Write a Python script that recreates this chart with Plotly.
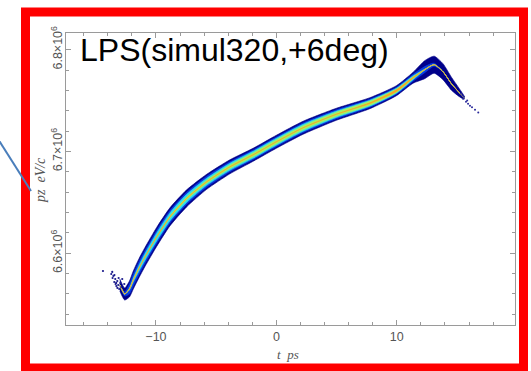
import plotly.graph_objects as go

# ---------------- data ----------------
t_center = [-13.0, -12.6, -12.2, -11.88, -11.4, -10.91, -9.94, -8.84, -7.45, -5.79, -3.86, -1.93,
            0.0, 2.22, 4.99, 7.76, 9.97, 11.36, 12.32, 13.1, 13.84, 14.54, 15.2, 15.6]
pz_center = [6.56881e6, 6.55995e6, 6.56487e6, 6.57373e6, 6.58554e6, 6.59636e6, 6.61604e6, 6.63572e6,
             6.65392e6, 6.67016e6, 6.68492e6, 6.69673e6, 6.70952e6, 6.72330e6, 6.73658e6, 6.74740e6,
             6.75970e6, 6.77250e6, 6.78037e6, 6.78529e6, 6.77840e6, 6.76659e6, 6.75774e6, 6.75282e6]
# half spreads of the density levels (eV)
spread_outer = [5900, 5900, 7870, 8860, 9350, 9350, 9350, 8860, 8360, 7380, 6890, 6400,
                6400, 6400, 5900, 5410, 4920, 5410, 8860, 8360, 7870, 6400, 3940, 1480]
spread_mid = [0, 1970, 4920, 5900, 6400, 6400, 6400, 6200, 5900, 5410, 4920, 4720,
              4720, 4720, 4430, 3940, 3440, 3440, 3000, 1500, 0, 0, 0, 0]
spread_cyan = [0, 0, 980, 1970, 2950, 3440, 3940, 3940, 3940, 3440, 3440, 3440,
               3440, 3440, 3150, 2950, 2460, 1970, 500, 0, 0, 0, 0, 0]
spread_core = [0, 0, 0, 0, 0, 0, 490, 980, 1280, 1570, 1770, 1970,
               2070, 2070, 2070, 2070, 1770, 980, 0, 0, 0, 0, 0, 0]
spread_hot = [0, 0, 0, 0, 0, 0, 0, 0, 0, 0, 0, 0,
              0, 0, 0, 390, 890, 390, 0, 0, 0, 0, 0, 0]

# sparse particles near the head and the tail
t_head = [-14.40, -13.71, -13.54, -13.38, -13.46, -13.21, -13.13, -12.96, -12.88, -13.05, -12.80,
          -12.63, -13.29, -13.63, -13.60, -13.45, -13.30, -13.10, -13.35, -13.20]
pz_head = [6.58258e6, 6.57963e6, 6.57766e6, 6.57471e6, 6.57176e6, 6.57274e6, 6.56881e6, 6.57078e6,
           6.56684e6, 6.56487e6, 6.57471e6, 6.56979e6, 6.56782e6, 6.58160e6, 6.57570e6, 6.57860e6,
           6.57080e6, 6.57570e6, 6.56980e6, 6.56590e6]
t_tail = [15.34, 15.50, 15.58, 15.75, 15.92, 16.08, 16.25, 16.50, 16.77, 15.45, 15.85]
pz_tail = [6.7568e6, 6.7518e6, 6.7538e6, 6.7489e6, 6.7469e6, 6.7449e6, 6.7435e6, 6.7410e6, 6.7384e6,
           6.7550e6, 6.7500e6]

x_tickvals = [-10, 0, 10]
x_ticktext = ["\u221210", "0", "10"]
y_tickvals = [6.6e6, 6.7e6, 6.8e6]
y_ticktext = ["6.6\u00d710<sup>6</sup>", "6.7\u00d710<sup>6</sup>", "6.8\u00d710<sup>6</sup>"]
x_range = [-17.47, 19.82]
y_range = [6.5295e6, 6.8164e6]

title_text = "LPS(simul320,+6deg)"
x_title = "<i>t</i>  <i>ps</i>"
y_title = "<i>pz</i>  <i>eV/c</i>"

# ---------------- figure ----------------
fig = go.Figure()

layers = [
    (spread_outer, "#00008a"),
    (spread_mid, "#0a3ae0"),
    (spread_cyan, "#2fdcec"),
    (spread_core, "#a8f060"),
    (spread_hot, "#ffa020"),
]
for spread, color in layers:
    upper = [c + s for c, s in zip(pz_center, spread)]
    lower = [c - s for c, s in zip(pz_center, spread)]
    fig.add_trace(go.Scatter(
        x=t_center + t_center[::-1],
        y=upper + lower[::-1],
        mode="lines", fill="toself", fillcolor=color,
        line=dict(color=color, width=0.6, shape="spline", smoothing=0.6),
        hoverinfo="skip", showlegend=False))

fig.add_trace(go.Scatter(x=t_head, y=pz_head, mode="markers",
                         marker=dict(size=2.2, color="#1c1c8c"), showlegend=False))
fig.add_trace(go.Scatter(x=t_tail, y=pz_tail, mode="markers",
                         marker=dict(size=2, color="#2a2a9a"), showlegend=False))

axis_common = dict(
    showline=True, linecolor="#9a9a9a", linewidth=1, mirror="allticks",
    ticks="inside", ticklen=5, tickcolor="#9a9a9a", showgrid=False, zeroline=False,
    tickfont=dict(family="Liberation Sans", size=12.5, color="#555555"),
)
fig.update_xaxes(range=x_range, tickvals=x_tickvals, ticktext=x_ticktext,
                 minor=dict(dtick=2, tick0=0, ticks="inside", ticklen=3, tickcolor="#9a9a9a"),
                 **axis_common)
fig.update_yaxes(range=y_range, tickvals=y_tickvals, ticktext=y_ticktext, tickangle=-90,
                 ticklabelstandoff=-2,
                 minor=dict(dtick=20000, tick0=6.6e6, ticks="inside", ticklen=3, tickcolor="#9a9a9a"),
                 **axis_common)

W, H = 531, 371
L, R, T, B = 66, 16, 33, 46
pw, ph = W - L - R, H - T - B

def px(xp):
    return (xp - L) / pw

def py(yp):
    return (H - B - yp) / ph

fig.update_layout(
    width=W, height=H,
    margin=dict(l=L, r=R, t=T, b=B),
    paper_bgcolor="white", plot_bgcolor="white",
    shapes=[
        dict(type="rect", xref="paper", yref="paper",
             x0=px(25.5), x1=px(523.5), y0=py(368), y1=py(12),
             line=dict(color="#ff0000", width=9), fillcolor="rgba(0,0,0,0)"),
        dict(type="line", xref="paper", yref="paper",
             x0=px(-1), y0=py(140.5), x1=px(31), y1=py(191),
             line=dict(color="#4a7ebb", width=2)),
    ],
    annotations=[
        dict(text=title_text, xref="paper", yref="paper", x=px(78), y=py(50.5),
             xanchor="left", yanchor="middle", showarrow=False,
             font=dict(family="Liberation Sans", size=32, color="black")),
        dict(text=x_title, xref="paper", yref="paper", x=px(288), y=py(354),
             xanchor="center", yanchor="middle", showarrow=False,
             font=dict(family="Liberation Serif", size=13, color="#555555")),
        dict(text=y_title, xref="paper", yref="paper", x=px(40), y=py(180),
             xanchor="center", yanchor="middle", showarrow=False, textangle=-90,
             font=dict(family="Liberation Serif", size=14, color="#555555")),
    ],
)

fig.write_html("out.html")
